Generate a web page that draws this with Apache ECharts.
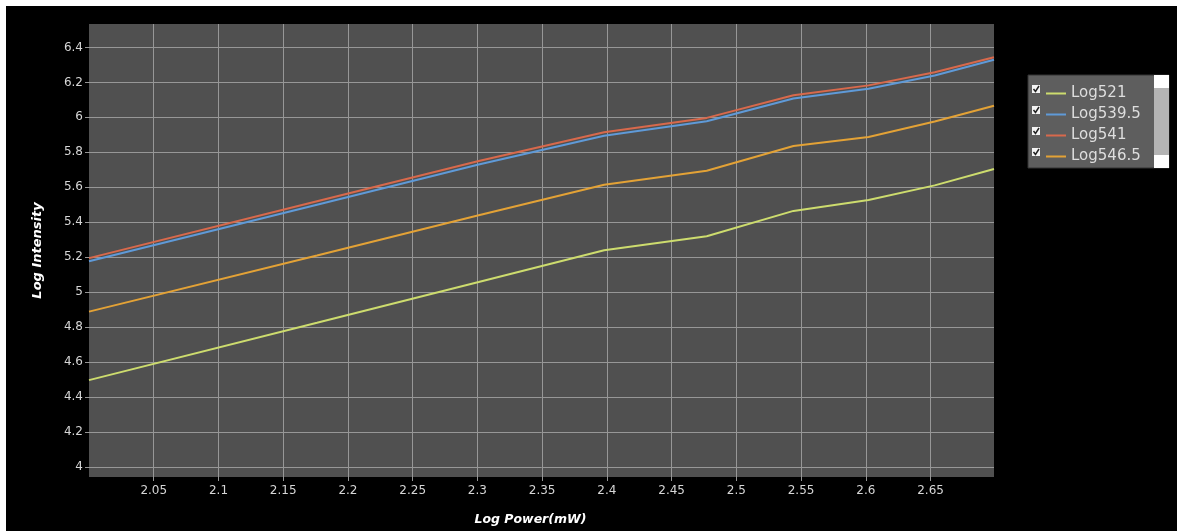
<!DOCTYPE html>
<html>
<head>
<meta charset="utf-8">
<script src="https://cdn.jsdelivr.net/npm/echarts@6/dist/echarts.min.js"></script>
<style>
html,body{margin:0;padding:0;background:#000;}
#chart{width:1177px;height:531px;}
</style>
</head>
<body>
<div id="chart"></div>
<script>
// Log10 of laser power (mW)
const xValues = [2.0, 2.1761, 2.3010, 2.3979, 2.4771, 2.5441, 2.6021, 2.6532, 2.6990];
const log521   = [4.497, 4.825, 5.058, 5.240, 5.320, 5.465, 5.527, 5.611, 5.705];
const log539_5 = [5.177, 5.500, 5.730, 5.895, 5.978, 6.108, 6.164, 6.239, 6.329];
const log541   = [5.195, 5.520, 5.750, 5.915, 5.997, 6.126, 6.183, 6.258, 6.344];
const log546_5 = [4.889, 5.210, 5.440, 5.615, 5.695, 5.836, 5.888, 5.976, 6.066];
const seriesNames = ['Log521', 'Log539.5', 'Log541', 'Log546.5'];
const xTicks = [2.05, 2.1, 2.15, 2.2, 2.25, 2.3, 2.35, 2.4, 2.45, 2.5, 2.55, 2.6, 2.65];
const yTicks = [4, 4.2, 4.4, 4.6, 4.8, 5, 5.2, 5.4, 5.6, 5.8, 6, 6.2, 6.4];

const colors = ['#cddc6e', '#5f9ad8', '#d8694c', '#e3a236'];
const seriesData = [log521, log539_5, log541, log546_5];

const chart = echarts.init(document.getElementById('chart'));

function pairs(ys) { return xValues.map((x, i) => [x, ys[i]]); }

const legendRows = [89, 110, 131, 152];
const graphics = [
  { type: 'rect', shape: { x: 0, y: 0, width: 1177, height: 6 }, style: { fill: '#fff' }, z: 0 },
  { type: 'rect', shape: { x: 0, y: 0, width: 6, height: 531 }, style: { fill: '#fff' }, z: 0 },
  { type: 'rect', shape: { x: 1028, y: 75, width: 141, height: 93 }, style: { fill: '#5e5e5e', stroke: '#333', lineWidth: 1 }, z: 0 },
  { type: 'rect', shape: { x: 1154, y: 75, width: 15, height: 93 }, style: { fill: '#b4b4b4' }, z: 1 },
  { type: 'rect', shape: { x: 1154, y: 75, width: 15, height: 13 }, style: { fill: '#ffffff' }, z: 2 },
  { type: 'rect', shape: { x: 1154, y: 155, width: 15, height: 13 }, style: { fill: '#ffffff' }, z: 2 }
];
legendRows.forEach(y => {
  graphics.push({ type: 'rect', shape: { x: 1032, y: y - 4, width: 8, height: 8 }, style: { fill: '#f4f4f4' }, z: 2 });
  graphics.push({ type: 'polyline', shape: { points: [[1033.5, y], [1035.5, y + 2.5], [1039, y - 3]] }, style: { stroke: '#222', lineWidth: 1.5, fill: null }, z: 3 });
});

chart.setOption({
  backgroundColor: '#000',
  animation: false,
  color: colors,
  graphic: graphics,
  grid: {
    left: 89, top: 24, width: 905, height: 456,
    show: true, backgroundColor: '#505050', borderWidth: 0
  },
  legend: {
    orient: 'vertical',
    left: 1041, top: 81,
    itemWidth: 20, itemHeight: 2,
    itemGap: 6,
    icon: 'rect',
    data: seriesNames,
    textStyle: { color: '#dedede', fontSize: 15, fontFamily: 'DejaVu Sans', padding: [0, 0, 0, 0] },
    z: 10
  },
  xAxis: {
    type: 'value',
    min: 2.0, max: 2.699,
    name: 'Log Power(mW)',
    nameLocation: 'middle',
    nameGap: 36,
    nameTextStyle: { color: '#fff', fontSize: 12.5, fontWeight: 'bold', fontStyle: 'italic', fontFamily: 'DejaVu Sans', padding: [0, 22, 0, 0] },
    axisLine: { show: false },
    axisTick: { show: true, length: 4, lineStyle: { color: '#959595' }, customValues: xTicks },
    axisLabel: { color: '#d6d6d6', fontSize: 12, fontFamily: 'DejaVu Sans', margin: 8, customValues: xTicks },
    splitLine: { show: true, lineStyle: { color: '#979797', width: 1 } }
  },
  yAxis: {
    type: 'value',
    min: 3.943, max: 6.534,
    name: 'Log Intensity',
    nameLocation: 'middle',
    nameGap: 45,
    nameRotate: 90,
    nameTextStyle: { color: '#fff', fontSize: 13, fontWeight: 'bold', fontStyle: 'italic', fontFamily: 'DejaVu Sans' },
    axisLine: { show: false },
    axisTick: { show: true, length: 4, lineStyle: { color: '#959595' }, customValues: yTicks },
    axisLabel: { color: '#d6d6d6', fontSize: 12, fontFamily: 'DejaVu Sans', margin: 6, customValues: yTicks },
    splitLine: { show: true, lineStyle: { color: '#979797', width: 1 } }
  },
  series: seriesNames.map((n, i) => ({
    name: n,
    type: 'line',
    data: pairs(seriesData[i]),
    showSymbol: false,
    symbol: 'none',
    lineStyle: { width: 2, color: colors[i] },
    itemStyle: { color: colors[i] }
  }))
});
</script>
</body>
</html>
